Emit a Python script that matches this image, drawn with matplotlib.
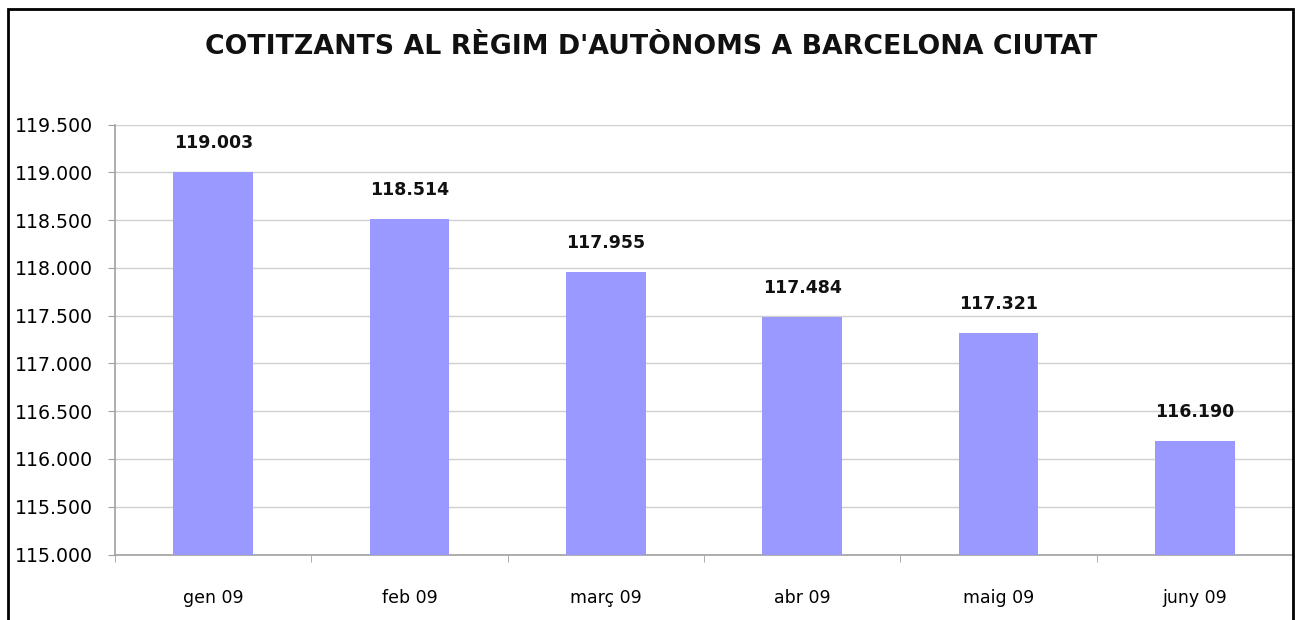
import matplotlib
matplotlib.use("Agg")
from matplotlib import pyplot as plt
from matplotlib.patches import Rectangle
from matplotlib.ticker import FuncFormatter
import numpy as np

months = ["gen 09", "feb 09", "març 09", "abr 09", "maig 09", "juny 09"]
cotitzants = [119003, 118514, 117955, 117484, 117321, 116190]
y_ticks = [115000, 115500, 116000, 116500, 117000, 117500, 118000, 118500, 119000, 119500]

W, H = 1295, 620
fig = plt.figure(figsize=(W / 100, H / 100), dpi=100)
plt.rcParams["font.family"] = ["DejaVu Sans"]

# plot area in pixels
left, right, top, bottom = 115, 1293, 124.5, 554.5
ax = fig.add_axes([left / W, 1 - bottom / H, (right - left) / W, (bottom - top) / H])

x = np.arange(len(months))
ax.bar(x, cotitzants, width=0.405, color="#9999FF", zorder=3)

def thousands(v, pos=None):
    return f"{int(round(v)):,}".replace(",", ".")

for xi, v in zip(x, cotitzants):
    ax.annotate(thousands(v), (xi, v), xytext=(0, 14.5), textcoords="offset points",
                ha="center", va="bottom", fontsize=12.5, fontweight="bold", color="#111111")

ax.set_xlim(-0.5, len(months) - 0.5)
ax.set_ylim(y_ticks[0], y_ticks[-1])
ax.set_yticks(y_ticks)
ax.yaxis.set_major_formatter(FuncFormatter(thousands))
ax.grid(axis="y", color="#D0D0D0", lw=1, zorder=0)

ax.set_xticks(x)
ax.set_xticklabels(months)
ax.set_xticks(np.arange(len(months) + 1) - 0.5, minor=True)
ax.tick_params(axis="x", which="major", length=0, pad=25, labelsize=12.5)
ax.tick_params(axis="x", which="minor", length=5, color="#A0A0A0", direction="out")
ax.tick_params(axis="y", length=5, color="#A0A0A0", labelsize=13.6, pad=11)

for s in ["top", "right"]:
    ax.spines[s].set_visible(False)
for s in ["left", "bottom"]:
    ax.spines[s].set_color("#A0A0A0")
    ax.spines[s].set_linewidth(1.2)

fig.text(651 / W, 1 - 47 / H, "COTITZANTS AL RÈGIM D'AUTÒNOMS A BARCELONA CIUTAT",
         ha="center", va="center", fontsize=19.3, fontweight="bold", color="#111111")

# outer frame of the chart
fig.patches.append(Rectangle((8 / W, -0.1), (1293 - 8) / W, (1 - 9 / H) + 0.1,
                             transform=fig.transFigure, fill=False, edgecolor="black",
                             lw=2, clip_on=False))

fig.savefig("out.png", dpi=100, facecolor="white")
